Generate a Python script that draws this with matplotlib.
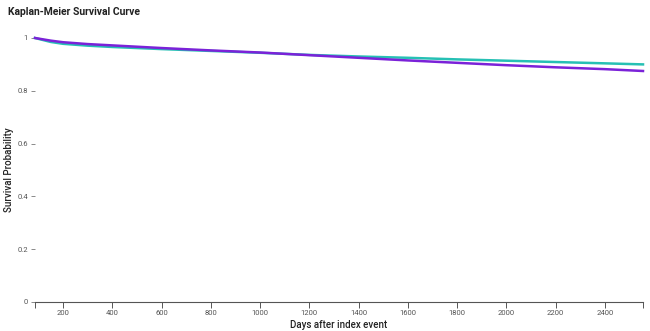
import matplotlib
matplotlib.use("Agg")
import matplotlib.pyplot as plt

plt.rcParams['font.family'] = ['Roboto', 'DejaVu Sans']

# survival estimates
days = [86, 150, 200, 300, 400, 600, 800, 1000, 1200, 1400, 1600, 1800, 2000, 2200, 2400, 2555]
surv_a = [1.0, 0.99, 0.984, 0.977, 0.972, 0.962, 0.953, 0.945, 0.935, 0.925, 0.915, 0.906, 0.897, 0.889, 0.882, 0.875]
surv_b = [1.0, 0.985, 0.978, 0.971, 0.966, 0.958, 0.951, 0.944, 0.936, 0.930, 0.925, 0.919, 0.914, 0.909, 0.904, 0.900]

xticks = [200, 400, 600, 800, 1000, 1200, 1400, 1600, 1800, 2000, 2200, 2400]
yticks = [0, 0.2, 0.4, 0.6, 0.8, 1]
ytick_labels = ["0", "0.2", "0.4", "0.6", "0.8", "1"]

fig = plt.figure(figsize=(6.5, 3.31), dpi=100)
ax = fig.add_axes([35 / 650, 29 / 331, 608 / 650, 264 / 331])

ax.plot(days, surv_a, color="#7b22d8", lw=1.8, clip_on=False, zorder=3)
ax.plot(days, surv_b, color="#26c0b4", lw=1.8, clip_on=False, zorder=2)

ax.set_xlim(86, 2555)
ax.set_ylim(0, 1)

for s in ["top", "right", "left"]:
    ax.spines[s].set_visible(False)
ax.spines["bottom"].set_color("#555555")
ax.spines["bottom"].set_linewidth(0.8)

ax.set_xticks(xticks)
ax.set_xticks([86, 2555], minor=True)
ax.set_yticks(yticks)
ax.set_yticklabels(ytick_labels)
ax.tick_params(axis="x", which="both", length=4, width=0.7, color="#555555",
               labelsize=5.5, labelcolor="#555555", pad=2)
ax.tick_params(axis="y", length=3, width=0.6, color="#777777",
               labelsize=5.5, labelcolor="#555555", pad=2)

ax.set_xlabel("Days after index event", fontsize=7, fontweight="medium",
              color="#222222", labelpad=3)

fig.text(9 / 650, 1 - 170 / 331, "Survival Probability", fontsize=7,
         fontweight="medium", color="#222222", rotation=90,
         va="center", ha="center")
fig.text(8 / 650, 1 - 12 / 331, "Kaplan-Meier Survival Curve", fontsize=7.5,
         fontweight="bold", color="#222222", va="center", ha="left")

fig.savefig("out.png", dpi=100)
